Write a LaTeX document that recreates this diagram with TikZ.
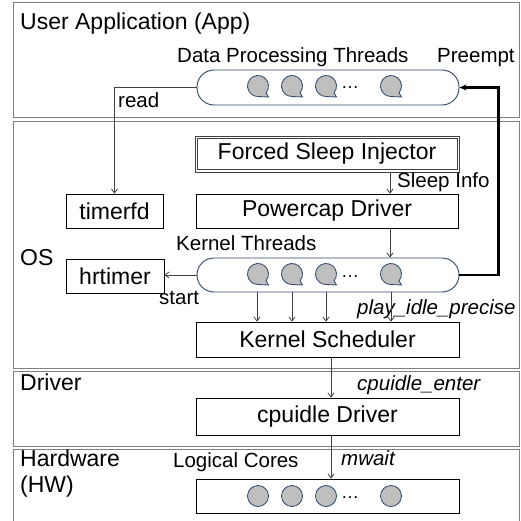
\documentclass[tikz,border=0pt]{standalone}
\usepackage{fontspec}
\setmainfont{Liberation Sans}
\usetikzlibrary{arrows.meta}
\definecolor{capsblue}{HTML}{2F4468}
\definecolor{dotgray}{HTML}{BFBFBF}
\definecolor{connc}{HTML}{404040}
\definecolor{layergray}{HTML}{808080}
\newcommand{\bigfont}{\fontsize{23}{27}\selectfont}
\newcommand{\smallfont}{\fontsize{20.5}{24}\selectfont}
\newcommand{\bub}[2]{\draw[draw=capsblue,fill=dotgray,line width=0.8pt,shift={(#1,#2)}] (-40:10.5pt) arc[start angle=-40,end angle=270,radius=10.5pt] -- (10.5pt,-11pt) -- cycle;}
\newcommand{\circdot}[2]{\draw[draw=capsblue,fill=dotgray,line width=0.8pt] (#1,#2) circle[radius=10.5pt];}
\begin{document}
\begin{tikzpicture}[x=1pt,y=-1pt,
 layer/.style={draw=layergray,line width=1.4pt,inner sep=0,anchor=north west},
 box/.style={draw=black,line width=0.8pt,inner sep=0,font=\bigfont},
 caps/.style={draw=capsblue,line width=0.9pt,rounded corners=17pt,inner sep=0,fill=white},
 lbl/.style={inner sep=0,anchor=base west,font=\smallfont},
 itl/.style={inner sep=0,anchor=base west,font=\smallfont\itshape},
 big/.style={inner sep=0,anchor=base west,font=\bigfont},
 ell/.style={inner sep=0,anchor=base west,font=\fontsize{18}{20}\selectfont},
 connarrow/.style={draw=connc,line width=0.8pt,-{Straight Barb[length=4pt,width=6pt]}},
 preemptarrow/.style={draw=black,line width=2.4pt,-{Stealth[length=7pt,width=6pt]}},
]
\useasboundingbox (0,0) rectangle (520,521);
\fill[white] (0,0) rectangle (520,521);
% layers
\node[layer,minimum width=506pt,minimum height=115pt] (app) at (13,2) {};
\node[layer,minimum width=506pt,minimum height=247pt] (os) at (13,121) {};
\node[layer,minimum width=506pt,minimum height=75pt] (drv) at (13,371) {};
\node[layer,minimum width=506pt,minimum height=80pt] (hw) at (13,449) {};
% layer titles
\node[big] (tapp) at (20,30) {User Application (App)};
\node[big] (tos) at (20,265) {OS};
\node[big] (tdrv) at (20,390) {Driver};
\node[big] (thw1) at (20,466) {Hardware};
\node[big] (thw2) at (20,492) {(HW)};
% boxes
\node[box,draw=black!75,minimum width=264pt,minimum height=36pt] (fsi) at (327,154) {Forced Sleep Injector};
\draw[draw=black!75,line width=0.8pt] ([shift={(2.5pt,-2.5pt)}]fsi.north west) rectangle ([shift={(-2.5pt,2.5pt)}]fsi.south east);
\node[box,minimum width=97pt,minimum height=34pt] (timerfd) at (114.5,211) {timerfd};
\node[box,minimum width=262pt,minimum height=34pt] (powercap) at (327,211) {Powercap Driver};
\node[box,minimum width=98pt,minimum height=34pt] (hrtimer) at (115,276) {hrtimer};
\node[box,minimum width=263pt,minimum height=35pt] (ksched) at (327.5,339.5) {Kernel Scheduler};
\node[box,minimum width=263pt,minimum height=37pt] (cpuidle) at (327.5,416.5) {cpuidle Driver};
\node[box,minimum width=263pt,minimum height=34pt] (cores) at (327.5,496) {};
% capsules
\node[caps,minimum width=262pt,minimum height=35pt] (dpt) at (328,87.5) {};
\node[caps,minimum width=262pt,minimum height=34pt] (kt) at (328,275) {};
% bubbles
\bub{258}{86}\bub{292}{86}\bub{326}{86}\bub{391}{86}
\bub{258}{274}\bub{292}{274}\bub{326}{274}\bub{391}{274}
\circdot{258}{496}\circdot{292}{496}\circdot{326}{496}\circdot{391}{496}
\node[ell] (dots1) at (341,89) {…};
\node[ell] (dots2) at (341,277) {…};
\node[ell] (dots3) at (341,498) {…};
% labels
\node[lbl] (ldpt) at (177,63) {Data Processing Threads};
\node[lbl] (lpre) at (437,63) {Preempt};
\node[lbl] (lread) at (118,108) {read};
\node[lbl] (lsleep) at (397,188) {Sleep Info};
\node[lbl] (lkt) at (176,250) {Kernel Threads};
\node[lbl] (lstart) at (159,304) {start};
\node[itl] (lplay) at (357,314) {play\_idle\_precise};
\node[itl] (lcpu) at (357,390) {cpuidle\_enter};
\node[lbl] (lcores) at (173,467) {Logical Cores};
\node[itl] (lmwait) at (341,465) {mwait};
% helper coordinates
\coordinate (x390) at (390,0);
\coordinate (x257) at (257,0);
\coordinate (x292) at (292,0);
\coordinate (x326) at (326,0);
\coordinate (x391) at (391,0);
\coordinate (x331) at (331,0);
% connectors
\draw[connarrow] (dpt.west) -| (timerfd.north);
\draw[connarrow] (fsi.south -| x390) -- (powercap.north -| x390);
\draw[connarrow] (powercap.south -| x390) -- (kt.north -| x390);
\draw[connarrow] (kt.west) -- (kt.west -| hrtimer.east);
\draw[connarrow] (kt.south -| x257) -- (ksched.north -| x257);
\draw[connarrow] (kt.south -| x292) -- (ksched.north -| x292);
\draw[connarrow] (kt.south -| x326) -- (ksched.north -| x326);
\draw[connarrow] (kt.south -| x391) -- (ksched.north -| x391);
\draw[connarrow] (ksched.south -| x331) -- (cpuidle.north -| x331);
\draw[connarrow] (cpuidle.south -| x331) -- (cores.north -| x331);
\draw[preemptarrow] (kt.east) -- ++(39,0) |- (dpt.east);
\end{tikzpicture}
\end{document}
